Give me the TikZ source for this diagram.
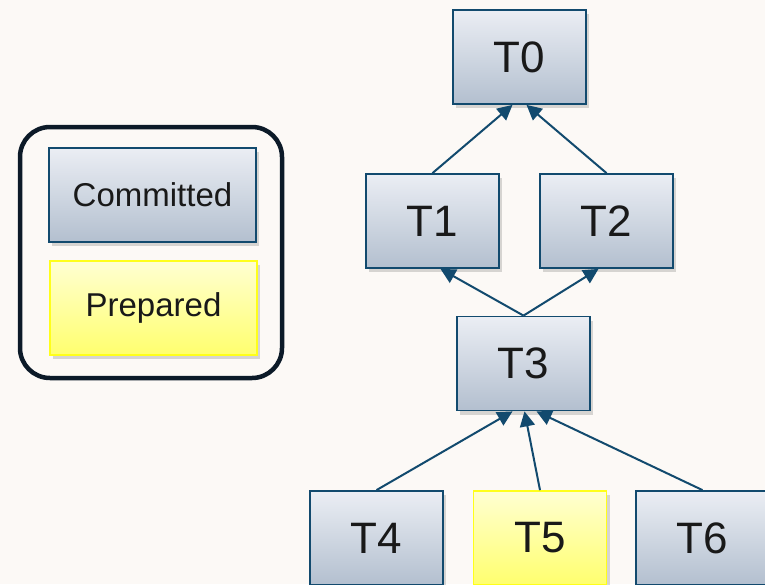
\documentclass[tikz,border=0pt]{standalone}
\usepackage{fontspec}
\setmainfont{Liberation Sans}
\usetikzlibrary{arrows.meta,shadows}
\definecolor{bgcol}{HTML}{FCF9F6}
\definecolor{edgeblue}{HTML}{124A6E}
\definecolor{boxtop}{HTML}{EBEEF4}
\definecolor{boxbot}{HTML}{B3BFCF}
\definecolor{yeltop}{HTML}{FFFFD2}
\definecolor{yelbot}{HTML}{FFFF6E}
\definecolor{yelline}{HTML}{FFFF1A}
\definecolor{legendline}{HTML}{0C1A28}
\tikzset{
  boxshadow/.style={drop shadow={shadow xshift=3pt,shadow yshift=-4pt,opacity=0.25,fill=black!60}},
  txbox/.style={rectangle,draw=edgeblue,line width=1.8pt,top color=boxtop,bottom color=boxbot,
    minimum width=133pt,minimum height=94pt,inner sep=0pt,boxshadow,
    font=\fontsize{44}{52}\selectfont,text=black!90},
  prepbox/.style={txbox,draw=yelline,top color=yeltop,bottom color=yelbot},
  legbox/.style={txbox,minimum width=207pt,font=\fontsize{33}{40}\selectfont},
  legprep/.style={legbox,draw=yelline,top color=yeltop,bottom color=yelbot},
  dep/.style={draw=edgeblue,line width=2pt,-{Triangle[length=15pt,width=15pt]}}
}
\begin{document}
\begin{tikzpicture}[x=1pt,y=-1pt]
\useasboundingbox (0,0) rectangle (765,584);
\clip (0,0) rectangle (765,584);
\fill[bgcol] (0,0) rectangle (765,584);

% legend
\draw[legendline,line width=4.5pt,rounded corners=30pt] (20,127) rectangle (282,378);
\node[legbox] (lc) at (152.5,195) {Committed};
\node[legprep] (lp) at (153.5,308) {Prepared};

% transaction tree
\node[txbox] (t0) at (519.5,57) {T0};
\node[txbox] (t1) at (432.5,221) {T1};
\node[txbox] (t2) at (606.5,221) {T2};
\node[txbox] (t3) at (523.5,363.5) {T3};
\node[txbox] (t4) at (376.5,538) {T4};
\node[prepbox] (t5) at (540,538) {T5};
\node[txbox] (t6) at (702.5,538) {T6};

\draw[dep] (t1.north) -- ([xshift=-7pt]t0.south);
\draw[dep] (t2.north) -- ([xshift=7pt]t0.south);
\draw[dep] (t3.north) -- ([xshift=8pt]t1.south);
\draw[dep] (t3.north) -- ([xshift=-8pt]t2.south);
\draw[dep] (t4.north) -- ([xshift=-11pt]t3.south);
\draw[dep] (t5.north) -- ([xshift=1pt]t3.south);
\draw[dep] (t6.north) -- ([xshift=13pt]t3.south);
\end{tikzpicture}
\end{document}
